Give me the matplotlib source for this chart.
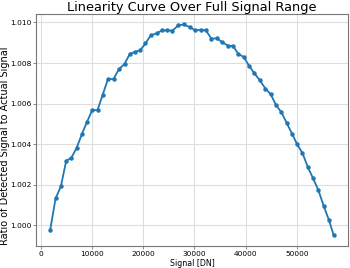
import matplotlib
matplotlib.use('Agg')
import matplotlib.pyplot as plt
import numpy as np

# Mean signal of each exposure level [DN]
signal = [1880, 2920, 3960, 5000, 5970, 7010, 8050, 9030, 10060, 11100,
          12080, 13120, 14220, 15260, 16360, 17400, 18380, 19420, 20450, 21490,
          22600, 23640, 24680, 25710, 26820, 27860, 29090, 30130, 31230, 32210,
          33310, 34350, 35390, 36490, 37530, 38570, 39610, 40650, 41690, 42730,
          43830, 44870, 45910, 46950, 47990, 49030, 50000, 51040, 52080, 53120,
          54160, 55200, 56170, 57140]

# Detected / actual signal ratio
ratio = [0.99979, 1.00133, 1.00193, 1.00319, 1.00332, 1.00381, 1.00450, 1.00509, 1.00568, 1.00568,
         1.00642, 1.00720, 1.00722, 1.00769, 1.00796, 1.00845, 1.00855, 1.00863, 1.00897, 1.00937,
         1.00946, 1.00961, 1.00961, 1.00960, 1.00985, 1.00990, 1.00977, 1.00961, 1.00964, 1.00961,
         1.00920, 1.00922, 1.00903, 1.00886, 1.00883, 1.00844, 1.00830, 1.00786, 1.00749, 1.00715,
         1.00674, 1.00646, 1.00592, 1.00557, 1.00504, 1.00451, 1.00400, 1.00357, 1.00288, 1.00232,
         1.00173, 1.00095, 1.00029, 0.99952]

fig, ax = plt.subplots(figsize=(3.5, 2.68), dpi=100)
fig.subplots_adjust(left=0.103, right=0.994, top=0.948, bottom=0.083)

ax.plot(signal, ratio, color='#1f77b4', lw=1.3, marker='o', ms=2.2)

ax.set_title('Linearity Curve Over Full Signal Range', fontsize=9.3, pad=2)
ax.set_xlabel('Signal [DN]', fontsize=5.7, labelpad=1.5)
ax.set_ylabel('Ratio of Detected Signal to Actual Signal', fontsize=7.0)
ax.yaxis.set_label_coords(-0.083, 0.433)

ax.set_xticks([0, 10000, 20000, 30000, 40000, 50000])
ax.set_yticks([1.000, 1.002, 1.004, 1.006, 1.008, 1.010])
ax.tick_params(labelsize=5.3, length=2, width=0.5, pad=1.5, color='#555555')
ax.grid(True, color='#dddddd', lw=0.8)
ax.set_axisbelow(True)
for s in ax.spines.values():
    s.set_color('#777777')
    s.set_linewidth(0.8)

plt.savefig('out.png', dpi=100)
